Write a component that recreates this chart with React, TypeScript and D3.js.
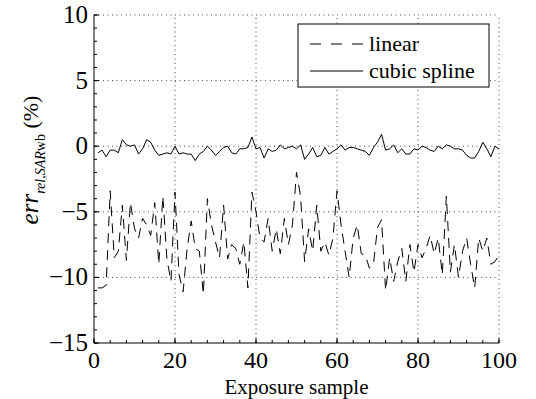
import * as d3 from "d3";

const samples = d3.range(1, 101);

const linearErr = [
  -10.8, -10.8, -10.6, -3.4, -8.5, -8.0, -4.5, -8.7, -4.3, -6.3,
  -7.0, -5.5, -6.0, -6.8, -4.3, -9.0, -3.8, -8.6, -10.3, -3.5,
  -9.8, -11.1, -7.8, -5.7, -7.8, -8.0, -11.3, -4.0, -6.0, -7.3,
  -8.5, -4.5, -8.6, -7.5, -7.8, -9.0, -7.3, -10.8, -3.5, -5.0,
  -7.0, -7.3, -5.5, -8.0, -6.3, -8.2, -5.5, -7.5, -6.0, -2.0,
  -3.8, -8.8, -6.3, -8.0, -4.5, -8.0, -7.3, -8.3, -7.0, -3.4,
  -6.0, -8.0, -10.0, -7.0, -6.0, -8.2, -8.3, -9.3, -9.0, -6.2,
  -5.6, -11.0, -8.5, -10.3, -8.8, -7.8, -10.3, -7.5, -9.6, -7.5,
  -8.5, -7.8, -6.8, -8.2, -7.0, -9.8, -3.8, -9.6, -7.5, -10.0,
  -8.0, -7.0, -9.0, -10.8, -7.0, -8.0, -7.0, -9.0, -8.8, -8.3,
];

const splineErr = [
  -0.5, -0.3, -0.8, -0.3, -0.3, -0.5, 0.5, 0.1, 0.0, 0.1,
  -0.6, -0.2, 0.5, 0.3, -0.3, -0.7, -0.6, -0.5, -0.6, 0.0,
  -0.6, -0.5, -0.6, -0.6, -1.1, -0.6, -0.4, 0.0, -0.3, -0.7,
  -0.4, -0.1, 0.0, -0.5, -0.6, -0.2, -0.2, -0.1, 0.7, -0.2,
  -0.1, -0.9, -0.2, -0.4, -0.3, 0.1, -0.2, -0.1, 0.0, -0.2,
  0.1, -1.0, -0.6, -0.1, -0.8, -0.7, -0.1, -0.6, -0.4, -0.2,
  0.1, -0.3, -0.1, -0.1, -0.2, -0.3, -0.4, -0.7, -0.1, 0.3,
  0.9, -0.3, -0.2, 0.1, -0.5, -0.2, -0.6, -0.6, -0.2, -0.3,
  0.0, -0.1, -0.3, -0.4, 0.0, -0.2, 0.1, 0.0, -0.2, -0.2,
  -0.3, -0.7, -0.9, -0.9, -0.4, 0.3, -0.2, -0.8, 0.0, -0.2,
];

const xTicks = [0, 20, 40, 60, 80, 100];
const yTicks = [-15, -10, -5, 0, 5, 10];
const xMinor = d3.range(0, 101, 4);
const yMinor = d3.range(-15, 11, 1);

const FONT = "Liberation Serif";

export default function App() {
  const W = 536;
  const H = 399;
  const mg = { top: 15, right: 37, bottom: 56, left: 94 };
  const x = d3.scaleLinear([0, 100], [mg.left, W - mg.right]);
  const y = d3.scaleLinear([-15, 10], [H - mg.bottom, mg.top]);

  const line = d3
    .line<number>()
    .x((_, i) => x(samples[i]))
    .y((d) => y(d));

  const x0 = x(0);
  const x1 = x(100);
  const y0 = y(-15);
  const y1 = y(10);
  const fmt = (v: number) => (v < 0 ? `\u2212${Math.abs(v)}` : `${v}`);

  return (
    <svg
      width={W}
      height={H}
      fontFamily={FONT}
      style={{ position: "absolute", left: 0, top: 0, background: "#fff" }}
    >
      {/* grid */}
      {xTicks.filter((t) => t > 0).map((t) => (
        <line key={`gx${t}`} x1={x(t)} x2={x(t)} y1={y0} y2={y1}
          stroke="#333" strokeWidth={0.9} strokeDasharray="1 3.5" />
      ))}
      {yTicks.filter((t) => t > -15).map((t) => (
        <line key={`gy${t}`} x1={x0} x2={x1} y1={y(t)} y2={y(t)}
          stroke="#333" strokeWidth={0.9} strokeDasharray="1 3.5" />
      ))}

      {/* series */}
      <path d={line(linearErr) ?? ""} fill="none" stroke="#000"
        strokeWidth={1} strokeDasharray="10 7" />
      <path d={line(splineErr) ?? ""} fill="none" stroke="#000" strokeWidth={1} />

      {/* axes */}
      <line x1={x0} x2={x0} y1={y0} y2={y1} stroke="#000" strokeWidth={1} />
      <line x1={x0} x2={x1} y1={y0} y2={y0} stroke="#000" strokeWidth={1} />
      {xMinor.map((t) => (
        <line key={`mx${t}`} x1={x(t)} x2={x(t)} y1={y0} y2={y0 - 3} stroke="#000" />
      ))}
      {yMinor.map((t) => (
        <line key={`my${t}`} x1={x0} x2={x0 + 3} y1={y(t)} y2={y(t)} stroke="#000" />
      ))}
      {xTicks.map((t) => (
        <g key={`tx${t}`}>
          <line x1={x(t)} x2={x(t)} y1={y0} y2={y0 - 5} stroke="#000" />
          <text x={x(t)} y={y0 + 25} fontSize={24} textAnchor="middle">
            {fmt(t)}
          </text>
        </g>
      ))}
      {yTicks.map((t) => (
        <g key={`ty${t}`}>
          <line x1={x0} x2={x0 + 5} y1={y(t)} y2={y(t)} stroke="#000" />
          <text x={x0 - 6} y={y(t) + 8} fontSize={25} textAnchor="end">
            {fmt(t)}
          </text>
        </g>
      ))}

      {/* axis labels */}
      <text x={(x0 + x1) / 2} y={H - 5} fontSize={21} textAnchor="middle">
        Exposure sample
      </text>
      <text transform="translate(38,160) rotate(-90)" textAnchor="middle" fontSize={24}>
        <tspan fontStyle="italic" fontSize={25}>err</tspan>
        <tspan fontSize={14} dy={7} fontStyle="italic">rel,SAR</tspan>
        <tspan fontSize={14}>wb</tspan>
        <tspan dy={-7} fontSize={22}> (%)</tspan>
      </text>

      {/* legend */}
      <g transform="translate(298,24)">
        <rect x={0} y={0} width={191} height={63} fill="#fff" stroke="#000" strokeWidth={1} />
        <line x1={12} x2={65} y1={20} y2={20} stroke="#000" strokeDasharray="11 10" />
        <text x={71} y={27} fontSize={22}>linear</text>
        <line x1={12} x2={65} y1={47} y2={47} stroke="#000" />
        <text x={71} y={54} fontSize={22}>cubic spline</text>
      </g>
    </svg>
  );
}
